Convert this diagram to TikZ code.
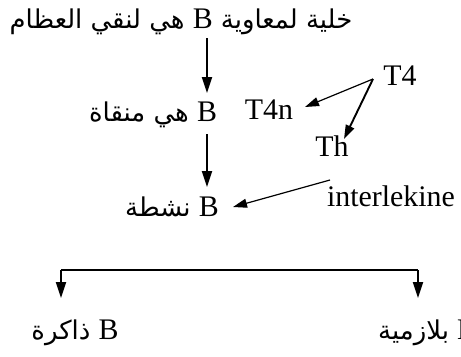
\documentclass[tikz,border=0pt]{standalone}
\usepackage{fontspec}
\setmainfont{Liberation Serif}
\newfontfamily\arabicfont[Script=Arabic]{DejaVu Sans}
\TeXXeTstate=1
\usetikzlibrary{arrows.meta}
\newcommand\latB{{\rmfamily\fontsize{30}{32}\selectfont B}}
\begin{document}
\begin{tikzpicture}[x=1bp,y=-1bp,
  arr/.style={line width=1.8bp,-{Triangle[length=16bp,width=10bp]}},
  sarr/.style={line width=1.2bp,-{Triangle[length=14bp,width=9bp]}},
  lat/.style={font=\fontsize{30}{32}\selectfont,inner sep=0pt},
  ara/.style={font=\arabicfont\fontsize{26}{32}\selectfont,inner sep=0pt}]
\useasboundingbox (0,0) rectangle (461,356);
\node[ara] (top) at (181,22) {\beginR خلية لمعاوية \latB{} هي لنقي العظام\endR};
\node[ara] (b1) at (153,115) {\beginR \latB{} هي منقاة\endR};
\node[ara] (b2) at (172,207) {\beginR \latB{} نشطة\endR};
\node[ara] (mem) at (75,333) {\beginR \latB{} ذاكرة\endR};
\node[ara,anchor=west] (pla) at (378,333) {\beginR \latB{} بلازمية\endR};
\node[lat] (t4) at (400,76) {T4};
\node[lat] (t4n) at (269,110) {T4n};
\node[lat] (th) at (332,146) {Th};
\node[lat] (il) at (391,196) {interlekine};
\coordinate (a1s) at (207,38);
\coordinate (a1e) at (207,93);
\coordinate (a2s) at (207,134);
\coordinate (a2e) at (207,187);
\coordinate (fork) at (373,79);
\coordinate (t4ntip) at (305,107);
\coordinate (thtip) at (344,139);
\coordinate (ils) at (330,180);
\coordinate (iltip) at (233,207);
\coordinate (bl) at (61,270);
\coordinate (br) at (418,270);
\coordinate (blt) at (61,298);
\coordinate (brt) at (418,298);
\draw[arr] (a1s) -- (a1e);
\draw[arr] (a2s) -- (a2e);
\draw[sarr] (fork) -- (t4ntip);
\draw[sarr,line width=1.9bp] (fork) -- (thtip);
\draw[sarr] (ils) -- (iltip);
\draw[line width=1.8bp] (bl) -- (br);
\draw[arr] (bl) -- (blt);
\draw[arr] (br) -- (brt);
\end{tikzpicture}
\end{document}
